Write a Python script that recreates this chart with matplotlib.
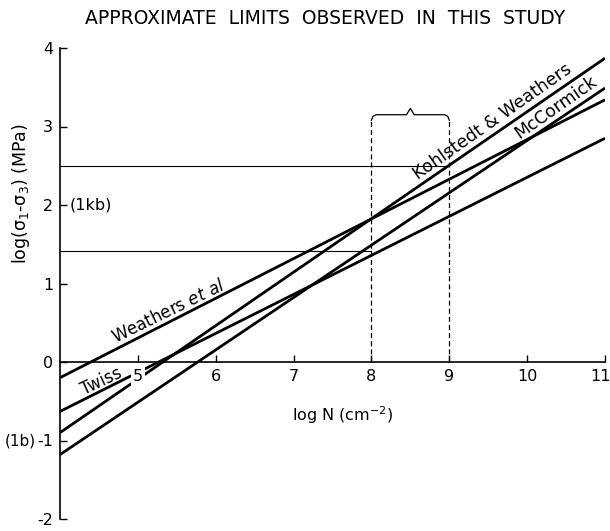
import matplotlib
matplotlib.use("Agg")
import matplotlib.pyplot as plt
from matplotlib.transforms import ScaledTranslation

# ---- data ----
log_N_ends = [4, 11]
weathers_et_al = [-0.20, 3.34]
kohlstedt_weathers = [-0.90, 3.87]
mccormick = [-1.18, 3.49]
twiss = [-0.63, 2.85]

study_limits = [8, 9]          # log N limits observed in this study
brace_level = 3.15
ref_levels = [2.5, 1.42]       # horizontal guide levels
ref_ends = [9, 8]              # x where each guide ends

x_ticks = [5, 6, 7, 8, 9, 10, 11]
y_ticks = [-2, -1, 0, 1, 2, 3, 4]

plt.rcParams['font.family'] = ['DejaVu Sans']

fig = plt.figure(figsize=(6.10, 5.31), dpi=100)
ax = fig.add_axes([60/610, 1-519/531, 545/610, (519-48)/531])
ax.set_xlim(4, 11)
ax.set_ylim(-2, 4)
ax.set_axisbelow(False)

lw = 2.0
for ys in (weathers_et_al, kohlstedt_weathers, mccormick, twiss):
    ax.plot(log_N_ends, ys, color='black', lw=lw, solid_capstyle='butt', zorder=2)

# horizontal guide lines
for lev, xe in zip(ref_levels, ref_ends):
    ax.plot([log_N_ends[0], xe], [lev, lev], color='black', lw=0.8, zorder=1)

# dashed study limits with brace
for xs in study_limits:
    ax.plot([xs, xs], [0, brace_level - 0.07], color='black', lw=0.9,
            ls=(0, (4, 2.5)), zorder=1)
x0, x1 = study_limits
xm = (x0 + x1) / 2
ax.plot([x0, x0 + 0.02, x0 + 0.06, xm - 0.05, xm, xm + 0.05, x1 - 0.06, x1 - 0.02, x1],
        [brace_level - 0.07, brace_level - 0.02, brace_level, brace_level,
         brace_level + 0.08, brace_level, brace_level, brace_level - 0.02, brace_level - 0.07],
        color='black', lw=0.9, zorder=1)

# spines
ax.spines['top'].set_visible(False)
ax.spines['right'].set_visible(False)
ax.spines['bottom'].set_position(('data', 0))
ax.spines['bottom'].set_linewidth(1.2)
ax.spines['left'].set_linewidth(1.2)

ax.set_xticks(x_ticks)
ax.set_xticklabels([str(t) for t in x_ticks])
ax.set_yticks(y_ticks)
ax.set_yticklabels([str(t) for t in y_ticks])
ax.tick_params(axis='x', direction='in', length=5, width=1.0, labelsize=11.5, pad=5)
ax.tick_params(axis='y', direction='in', length=5, width=1.0, labelsize=11.5, pad=5)
for lab in ax.get_xticklabels():
    if lab.get_text() == '5':
        lab.set_bbox(dict(facecolor='white', edgecolor='none', pad=1.5))
    if lab.get_text() == '11':
        lab.set_transform(lab.get_transform() +
                          ScaledTranslation(-4/100, 0, fig.dpi_scale_trans))

# axis labels
ax.set_ylabel('log(σ$_1$-σ$_3$) (MPa)', fontsize=12.5)
ax.yaxis.set_label_coords(-0.052, 0.69)
ax.text(7.63, -0.68, 'log N (cm$^{-2}$)', fontsize=11.5, ha='center', va='center')

ax.text(4.13, 2.0, '(1kb)', fontsize=11.5, ha='left', va='center')
ax.text(3.69, -1.0, '(1b)', fontsize=11, ha='right', va='center')

# line labels
ax.text(5.39, 0.64, r'Weathers $\it{et\ al}$', fontsize=12, rotation=26,
        ha='center', va='center', rotation_mode='anchor')
ax.text(4.53, -0.25, 'Twiss', fontsize=12, rotation=25,
        ha='center', va='center', rotation_mode='anchor')
ax.text(9.55, 3.06, 'Kohlstedt & Weathers', fontsize=12.5, rotation=35,
        ha='center', va='center', rotation_mode='anchor')
ax.text(10.37, 3.24, 'McCormick', fontsize=12.5, rotation=35,
        ha='center', va='center', rotation_mode='anchor')

fig.text(325/610, 1-18/531, 'APPROXIMATE  LIMITS  OBSERVED  IN  THIS  STUDY',
         fontsize=13.5, ha='center', va='center')

fig.savefig('out.png', dpi=100)
